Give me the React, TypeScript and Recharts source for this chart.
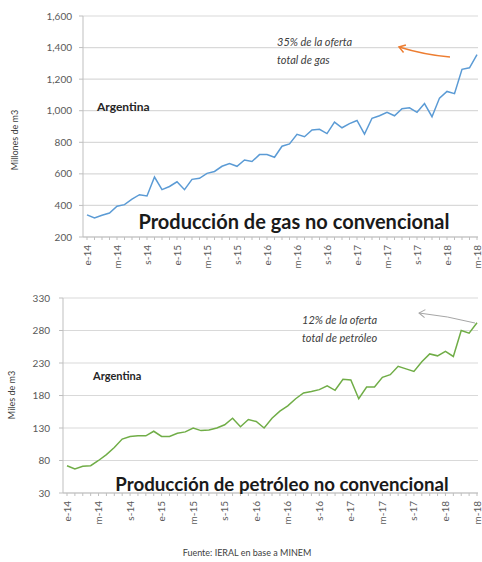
import { CartesianGrid, Line, LineChart, XAxis, YAxis } from "recharts"

// months Jan-2014 .. May-2018 (e = enero, m = mayo, s = septiembre ...)
const months = [
    "e-14", "f-14", "m-14", "a-14", "m-14", "j-14", "j-14", "a-14", "s-14", "o-14", "n-14", "d-14",
    "e-15", "f-15", "m-15", "a-15", "m-15", "j-15", "j-15", "a-15", "s-15", "o-15", "n-15", "d-15",
    "e-16", "f-16", "m-16", "a-16", "m-16", "j-16", "j-16", "a-16", "s-16", "o-16", "n-16", "d-16",
    "e-17", "f-17", "m-17", "a-17", "m-17", "j-17", "j-17", "a-17", "s-17", "o-17", "n-17", "d-17",
    "e-18", "f-18", "m-18", "a-18", "m-18",
]

// millones de m3
const gasValues = [
    340, 320, 338, 352, 395, 405, 440, 468, 460, 580, 500, 520,
    550, 500, 565, 572, 603, 615, 648, 665, 648, 688, 678, 722,
    722, 705, 775, 790, 850, 835, 878, 882, 855, 928, 892, 918,
    938, 852, 952, 968, 990, 968, 1012, 1018, 990, 1045, 962, 1080,
    1122, 1108, 1262, 1272, 1355,
]

// miles de m3
const oilValues = [
    72, 67, 71, 72, 80, 89, 100, 113, 117, 118, 118, 125,
    117, 117, 122, 124, 130, 126, 127, 130, 135, 145, 132, 143,
    140, 130, 145, 156, 164, 175, 184, 186, 189, 195, 188, 205,
    204, 175, 193, 193, 208, 212, 225, 221, 217, 232, 244, 241,
    248, 240, 280, 276, 292,
]

const gasTicks = [200, 400, 600, 800, 1000, 1200, 1400, 1600]
const oilTicks = [30, 80, 130, 180, 230, 280, 330]

const gasData = months.map((month, i) => ({ month, value: gasValues[i] }))
const oilData = months.map((month, i) => ({ month, value: oilValues[i] }))

const FONT = "Lato, 'Open Sans', sans-serif"
const TEXT = "#595959"

const MonthTick = (props: any) => {
    const { x, y, payload, index } = props
    if (index % 4 !== 0) return <g />
    return (
        <g transform={`translate(${x},${y})`}>
            <text transform="rotate(-90)" textAnchor="end" dy="0.35em" fill={TEXT} fontSize={10} fontFamily={FONT}>
                {payload.value}
            </text>
        </g>
    )
}

function ProductionChart({ data, ticks, color, axisWidth, tickMargin, height, xHeight }: any) {
    return (
        <LineChart width={482} height={height} data={data} margin={{ top: 16, right: 4, left: 0, bottom: 0 }}>
            <CartesianGrid vertical={false} stroke="#d9d9d9" strokeWidth={1.2} />
            <XAxis
                dataKey="month"
                interval={0}
                tick={<MonthTick />}
                tickSize={3}
                tickMargin={5}
                height={xHeight}
                padding={{ left: 4, right: 1 }}
                stroke="#bfbfbf"
            />
            <YAxis
                width={axisWidth}
                domain={[ticks[0], ticks[ticks.length - 1]]}
                ticks={ticks}
                tickSize={4}
                tickMargin={tickMargin}
                tickFormatter={(v: number) => v.toLocaleString("en-US")}
                tick={{ fill: TEXT, fontSize: 10, fontFamily: FONT }}
                stroke="#bfbfbf"
            />
            <Line type="linear" dataKey="value" stroke={color} strokeWidth={1.5} dot={false} isAnimationActive={false} />
        </LineChart>
    )
}

export default function App() {
    return (
        <div style={{ position: "absolute", left: 0, top: 0, width: 482, height: 562, background: "#fff" }}>
            <div style={{ position: "absolute", left: 0, top: 0 }}>
                <ProductionChart data={gasData} ticks={gasTicks} color="#5b9bd5" axisWidth={83} tickMargin={7} height={290} xHeight={53} />
            </div>
            <div style={{ position: "absolute", left: 0, top: 282 }}>
                <ProductionChart data={oilData} ticks={oilTicks} color="#70ad47" axisWidth={63} tickMargin={9} height={262} xHeight={51} />
            </div>
            <svg width={482} height={562} style={{ position: "absolute", left: 0, top: 0, pointerEvents: "none" }} fontFamily={FONT}>
                <defs>
                    <marker id="arrOrange" markerWidth="10" markerHeight="10" refX="8" refY="5" orient="auto" markerUnits="userSpaceOnUse">
                        <path d="M2,1 L8,5 L2,9" fill="none" stroke="#ed7d31" strokeWidth={1.5} />
                    </marker>
                    <marker id="arrGray" markerWidth="10" markerHeight="10" refX="8" refY="5" orient="auto" markerUnits="userSpaceOnUse">
                        <path d="M2,1 L8,5 L2,9" fill="none" stroke="#a6a6a6" strokeWidth={1} />
                    </marker>
                </defs>

                <text transform="translate(18,140) rotate(-90)" textAnchor="middle" fontSize={9} fill="#404040">Millones de m3</text>
                <text x={97} y={111} fontSize={12} fontWeight="bold" fill="#262626">Argentina</text>
                <text x={277} y={46} fontSize={11} fontStyle="italic" fill="#404040">35% de la oferta</text>
                <text x={277} y={64} fontSize={11} fontStyle="italic" fill="#404040">total de gas</text>
                <path d="M450,57 Q425,55 399,47" fill="none" stroke="#ed7d31" strokeWidth={1.5} markerEnd="url(#arrOrange)" />
                <text x={294} y={229} textAnchor="middle" fontSize={20} fontWeight="bold" fill="#1a1a1a">Producción de gas no convencional</text>

                <text transform="translate(15,395) rotate(-90)" textAnchor="middle" fontSize={9} fill="#404040">Miles de m3</text>
                <text x={93} y={380} fontSize={11} fontWeight="bold" fill="#262626">Argentina</text>
                <text x={302} y={324} fontSize={11} fontStyle="italic" fill="#404040">12% de la oferta</text>
                <text x={302} y={342} fontSize={11} fontStyle="italic" fill="#404040">total de petróleo</text>
                <path d="M475,323 Q448,316 419,313" fill="none" stroke="#a6a6a6" strokeWidth={1} markerEnd="url(#arrGray)" />
                <text x={282} y={491} textAnchor="middle" fontSize={18.7} fontWeight="bold" fill="#1a1a1a">Producción de petróleo no convencional</text>

                <text x={247} y={556} textAnchor="middle" fontSize={9} fill="#404040">Fuente: IERAL en base a MINEM</text>
            </svg>
        </div>
    )
}
